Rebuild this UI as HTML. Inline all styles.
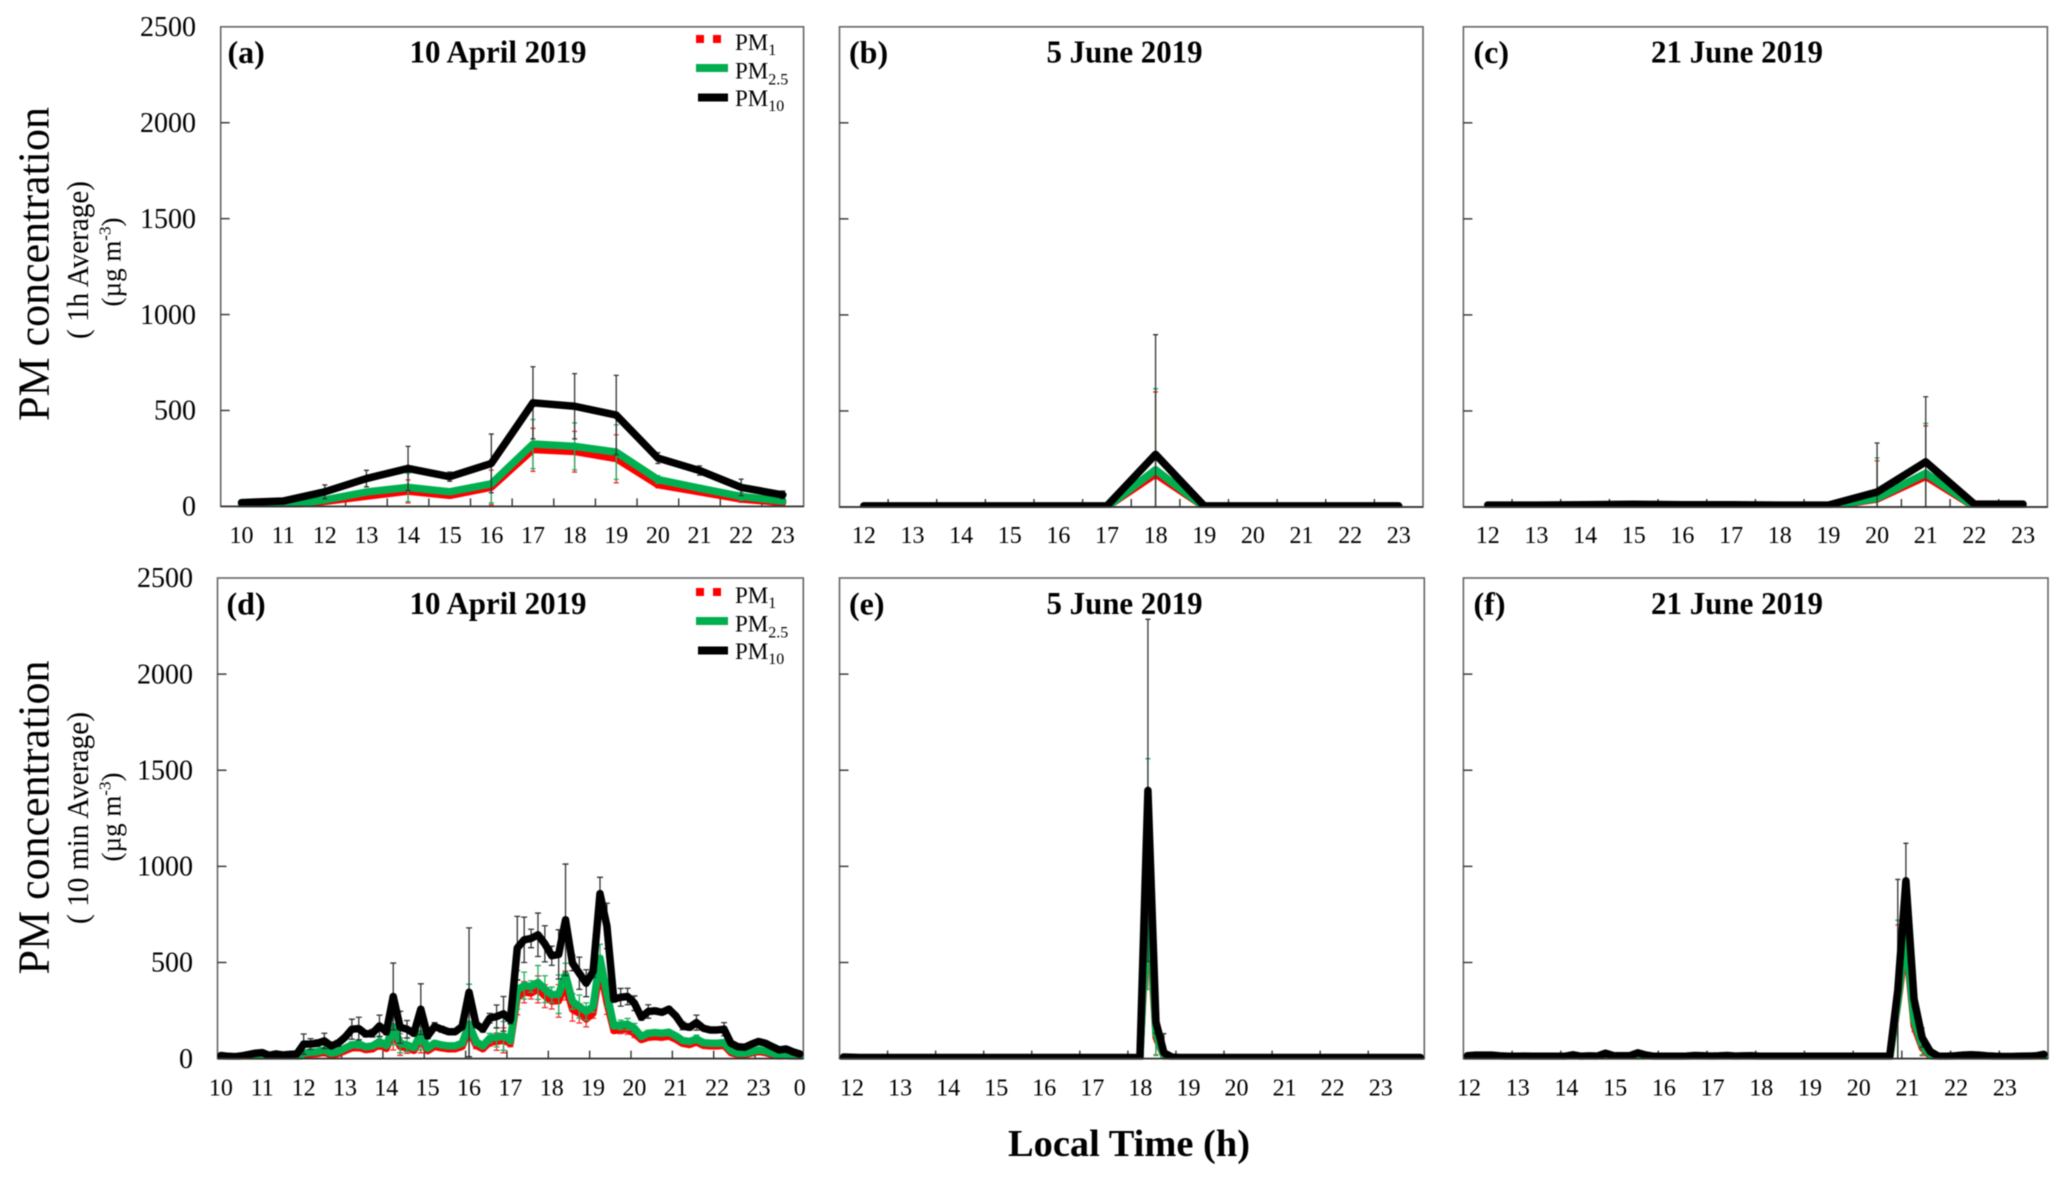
<!DOCTYPE html>
<html lang="en">
<head>
<meta charset="utf-8">
<title>PM concentration</title>
<style>
html,body{margin:0;padding:0;background:#fff;width:2067px;height:1181px;overflow:hidden}
svg{display:block;filter:blur(0.45px)}
text{font-family:"Liberation Serif","Noto Serif CJK SC",serif;fill:#000}
.ttl{font-weight:bold;font-size:32px;text-anchor:middle}
.lab{font-weight:bold;font-size:32px}
.leg{font-size:23px}
.sub{font-size:16px}
.big{font-size:44px;text-anchor:middle}
.mid{font-size:31px;text-anchor:middle}
.unit{font-size:27px;text-anchor:middle}
</style>
</head>
<body>
<svg id="figure" xmlns="http://www.w3.org/2000/svg" width="2067" height="1181" viewBox="0 0 2067 1181">
  <rect width="2067" height="1181" fill="#fff"/>

  <g>
    <text class="big" transform="translate(48.5 264) rotate(-90)" textLength="314" lengthAdjust="spacingAndGlyphs">PM concentration</text>
    <text class="mid" transform="translate(88 260) rotate(-90)" textLength="158" lengthAdjust="spacingAndGlyphs">( 1h Average)</text>
    <text class="unit" transform="translate(120.5 262) rotate(-90)">(µg m<tspan font-size="17" dy="-10">-3</tspan><tspan dy="10">)</tspan></text>
  </g>
  <g>
    <text class="big" transform="translate(48.5 817.5) rotate(-90)" textLength="314" lengthAdjust="spacingAndGlyphs">PM concentration</text>
    <text class="mid" transform="translate(88 818) rotate(-90)" textLength="212" lengthAdjust="spacingAndGlyphs">( 10 min Average)</text>
    <text class="unit" transform="translate(120.5 817) rotate(-90)">(µg m<tspan font-size="17" dy="-10">-3</tspan><tspan dy="10">)</tspan></text>
  </g>

  <g id="panel-a"></g>
  <g id="panel-b"></g>
  <g id="panel-c"></g>
  <g id="panel-d"></g>
  <g id="panel-e"></g>
  <g id="panel-f"></g>

  <g>
    <text class="lab" x="227.5" y="63">(a)</text>
    <text class="ttl" x="498" y="62.5" textLength="177" lengthAdjust="spacingAndGlyphs">10 April 2019</text>
    <text class="lab" x="849" y="63">(b)</text>
    <text class="ttl" x="1124.5" y="62.5" textLength="156" lengthAdjust="spacingAndGlyphs">5 June 2019</text>
    <text class="lab" x="1473.5" y="63">(c)</text>
    <text class="ttl" x="1737" y="62.5" textLength="172" lengthAdjust="spacingAndGlyphs">21 June 2019</text>
    <text class="lab" x="226.5" y="614.5">(d)</text>
    <text class="ttl" x="498" y="614" textLength="177" lengthAdjust="spacingAndGlyphs">10 April 2019</text>
    <text class="lab" x="849" y="614.5">(e)</text>
    <text class="ttl" x="1124.5" y="614" textLength="156" lengthAdjust="spacingAndGlyphs">5 June 2019</text>
    <text class="lab" x="1473.5" y="614.5">(f)</text>
    <text class="ttl" x="1737" y="614" textLength="172" lengthAdjust="spacingAndGlyphs">21 June 2019</text>
  </g>

  <g>
    <line x1="696" y1="39" x2="722" y2="39" stroke="#f00" stroke-width="8" stroke-dasharray="8 9"/>
    <text class="leg" x="735" y="50">PM<tspan class="sub" dy="5">1</tspan></text>
    <line x1="696" y1="68" x2="728" y2="68" stroke="#00b050" stroke-width="8"/>
    <text class="leg" x="735" y="78.5">PM<tspan class="sub" dy="6">2.5</tspan></text>
    <line x1="698" y1="97.5" x2="728" y2="97.5" stroke="#000" stroke-width="8"/>
    <text class="leg" x="735" y="106">PM<tspan class="sub" dy="5">10</tspan></text>
  </g>
  <g transform="translate(0 553)">
    <line x1="696" y1="39" x2="722" y2="39" stroke="#f00" stroke-width="8" stroke-dasharray="8 9"/>
    <text class="leg" x="735" y="50">PM<tspan class="sub" dy="5">1</tspan></text>
    <line x1="696" y1="68" x2="728" y2="68" stroke="#00b050" stroke-width="8"/>
    <text class="leg" x="735" y="78.5">PM<tspan class="sub" dy="6">2.5</tspan></text>
    <line x1="698" y1="97.5" x2="728" y2="97.5" stroke="#000" stroke-width="8"/>
    <text class="leg" x="735" y="106">PM<tspan class="sub" dy="5">10</tspan></text>
  </g>

  <text x="1129" y="1156" font-size="38" font-weight="bold" text-anchor="middle" textLength="242" lengthAdjust="spacingAndGlyphs">Local Time (h)</text>
</svg>

<script>
/* ---------- shared axis values ---------- */
const yTickValues = [0, 500, 1000, 1500, 2000, 2500];
const hourLabelsLong = ["10","11","12","13","14","15","16","17","18","19","20","21","22","23"];
const hourLabelsLongMidnight = ["10","11","12","13","14","15","16","17","18","19","20","21","22","23","0"];
const hourLabelsShort = ["12","13","14","15","16","17","18","19","20","21","22","23"];

/* ---------- panel (a) 10 April 2019, 1 h average ---------- */
const aPm1   = [3,4,25,52,78,56,99,295,285,248,112,75,37,19];
const aPm25  = [5,5,34,75,99,76,118,325,313,283,140,95,52,28];
const aPm10  = [20,28,76,145,198,155,224,540,522,476,252,187,99,60];
const aSdPm1  = [0,0,8,12,60,8,90,112,106,125,15,12,15,8];
const aSdPm25 = [0,0,10,15,74,10,100,128,122,142,20,15,20,10];
const aSdPm10 = [8,8,36,43,115,24,153,188,170,207,28,24,43,20];

/* ---------- panel (b) 5 June 2019, 1 h average ---------- */
const bPm1   = [0,0,0,0,0,0,170,0,0,0,0,0];
const bPm25  = [0,0,0,0,0,0,194,0,0,0,0,0];
const bPm10  = [6,6,6,6,6,6,274,6,6,6,6,6];
const bSdPm1  = [0,0,0,0,0,0,429,0,0,0,0,0];
const bSdPm25 = [0,0,0,0,0,0,422,0,0,0,0,0];
const bSdPm10 = [0,0,0,0,0,0,623,0,0,0,0,0];

/* ---------- panel (c) 21 June 2019, 1 h average ---------- */
const cPm1   = [0,0,0,0,0,0,0,1,40,158,0,0];
const cPm25  = [1,1,1,2,1,1,1,3,46,176,2,2];
const cPm10  = [10,10,12,14,12,12,10,10,78,235,15,15];
const cSdPm1  = [0,0,0,0,0,0,0,0,200,264,0,0];
const cSdPm25 = [0,0,0,0,0,0,0,0,209,259,0,0];
const cSdPm10 = [0,0,0,0,0,0,0,0,255,339,0,0];

/* ---------- panel (d) 10 April 2019, 10 min average ---------- */
const dPm1 = [0,0,0,0,1,2, 3,1,1,1,1,1,
  18,22,25,32,18,25, 40,55,58,46,50,72, 52,130,62,55,42,105, 40,62,55,50,50,62,
  150,68,50,85,88,95, 78,318,345,340,360,325, 298,300,380,255,235,205, 235,465,290,145,150,152,
  130,98,110,113,110,116, 100,78,72,85,68,65, 65,68,30,20,20,28, 36,30,20,10,14,8, 4];
const dPm25 = [2,2,2,2,3,4, 5,2,2,2,2,2,
  28,33,36,45,28,36, 54,71,76,61,66,89, 68,167,80,71,57,132, 54,80,71,66,66,80,
  180,89,66,106,111,118, 97,358,380,375,396,361, 332,335,436,297,271,245, 271,522,340,170,175,179,
  158,115,132,135,132,137, 118,94,89,102,83,80, 80,83,42,28,28,36, 45,40,28,16,19,14, 10];
const dPm10 = [16,12,10,14,21,28, 31,17,24,19,22,24,
  75,76,80,92,66,80, 111,153,156,128,132,170, 139,323,163,153,132,257, 118,167,153,140,140,167,
  345,180,153,210,219,233, 201,575,618,625,644,597, 535,542,722,497,444,392, 453,858,690,309,319,323,
  288,215,245,248,241,257, 222,170,163,187,158,149, 149,153,80,62,59,75, 89,80,62,45,50,35, 24];
const dSdPm1 = [0,0,0,0,0,1, 1,0,0,0,0,0,
  8,6,6,8,5,6, 8,14,18,8,10,24, 10,85,45,28,10,75, 8,10,8,6,6,8,
  200,16,10,20,45,65, 16,90,55,30,70,60, 40,85,75,60,50,40, 25,65,60,10,20,25,
  20,10,12,8,8,8, 6,10,8,15,5,5, 5,12,5,4,4,4, 5,4,4,3,3,2, 2];
const dSdPm25 = [1,1,1,1,1,1, 2,1,1,1,1,1,
  10,8,8,10,6,8, 10,16,22,10,12,28, 12,95,50,35,12,87, 10,12,10,8,8,10,
  207,20,12,25,50,75, 20,100,70,30,88,70, 40,100,60,40,60,45, 30,73,70,12,25,30,
  25,12,15,10,10,10, 8,12,10,20,6,6, 6,15,6,5,5,5, 6,5,5,4,4,3, 3];
const dSdPm10 = [8,5,4,4,5,6, 6,5,5,5,5,5,
  53,28,17,40,10,15, 10,52,59,15,20,56, 15,174,83,45,15,132, 15,20,15,10,10,15,
  335,20,15,25,60,90, 20,165,118,48,113,94, 50,128,290,40,84,70, 30,85,118,15,46,43,
  38,15,35,15,10,12, 10,20,15,39,8,8, 8,34,10,8,8,8, 12,8,8,6,6,5, 5];

/* ---------- panel (e) 5 June 2019, 10 min average ---------- */
const ePm1 = [0,0,0,0,0,0, 0,0,0,0,0,0, 0,0,0,0,0,0, 0,0,0,0,0,0, 0,0,0,0,0,0, 0,0,0,0,0,0,
  0,0,800,110,10,1, 0,0,0,0,0,0, 0,0,0,0,0,0, 0,0,0,0,0,0, 0,0,0,0,0,0, 0,0,0,0,0,0, 0];
const ePm25 = [0,0,0,0,0,0, 0,0,0,0,0,0, 0,0,0,0,0,0, 0,0,0,0,0,0, 0,0,0,0,0,0, 0,0,0,0,0,0,
  0,0,960,131,14,2, 0,0,0,0,0,0, 0,0,0,0,0,0, 0,0,0,0,0,0, 0,0,0,0,0,0, 0,0,0,0,0,0, 0];
const ePm10 = [8,7,6,6,6,6, 6,6,6,6,6,6, 6,6,6,6,6,6, 6,6,6,6,6,6, 6,6,6,6,6,6, 6,6,6,6,6,6,
  6,5,1395,191,30,8, 6,6,6,6,6,6, 6,6,6,6,6,6, 6,6,6,6,6,6, 6,6,6,6,6,6, 6,6,6,6,6,6, 6];
const eSdPm1 = [0,0,0,0,0,0, 0,0,0,0,0,0, 0,0,0,0,0,0, 0,0,0,0,0,0, 0,0,0,0,0,0, 0,0,0,0,0,0,
  0,0,300,90,12,0, 0,0,0,0,0,0, 0,0,0,0,0,0, 0,0,0,0,0,0, 0,0,0,0,0,0, 0,0,0,0,0,0, 0];
const eSdPm25 = [0,0,0,0,0,0, 0,0,0,0,0,0, 0,0,0,0,0,0, 0,0,0,0,0,0, 0,0,0,0,0,0, 0,0,0,0,0,0,
  0,0,600,115,15,0, 0,0,0,0,0,0, 0,0,0,0,0,0, 0,0,0,0,0,0, 0,0,0,0,0,0, 0,0,0,0,0,0, 0];
const eSdPm10 = [0,0,0,0,0,0, 0,0,0,0,0,0, 0,0,0,0,0,0, 0,0,0,0,0,0, 0,0,0,0,0,0, 0,0,0,0,0,0,
  0,0,890,60,100,0, 0,0,0,0,0,0, 0,0,0,0,0,0, 0,0,0,0,0,0, 0,0,0,0,0,0, 0,0,0,0,0,0, 0];

/* ---------- panel (f) 21 June 2019, 10 min average ---------- */
const fPm1 = [0,0,0,0,0,0, 0,0,0,0,0,0, 0,1,0,0,0,2, 0,0,0,3,1,0, 0,0,0,0,0,0, 0,0,0,0,0,0,
  0,0,0,0,0,0, 0,0,0,0,0,0, 0,0,0,0,0,280, 600,170,55,12,0,0, 0,0,0,0,0,0, 0,0,0,0,0,1];
const fPm25 = [1,1,2,2,1,1, 1,1,1,1,1,1, 1,3,1,1,1,5, 1,1,1,6,2,1, 1,1,1,1,2,1, 1,1,2,1,1,1,
  1,1,1,1,1,1, 1,1,1,1,1,1, 1,1,1,1,1,300, 650,200,70,20,1,1, 2,3,3,2,1,1, 1,1,1,1,2,4];
const fPm10 = [15,18,18,18,14,12, 12,13,12,12,12,12, 12,20,12,14,13,28, 15,15,15,30,18,12, 12,12,12,13,16,15, 13,14,16,13,14,15,
  12,12,12,12,12,12, 12,12,12,12,12,12, 12,12,12,12,12,356, 925,310,109,37,12,12, 14,18,20,18,14,12, 11,11,12,13,14,22];
const fSdPm1 = [0,0,0,0,0,0, 0,0,0,0,0,0, 0,0,0,0,0,0, 0,0,0,0,0,0, 0,0,0,0,0,0, 0,0,0,0,0,0,
  0,0,0,0,0,0, 0,0,0,0,0,0, 0,0,0,0,0,415, 100,30,40,15,0,0, 0,0,0,0,0,0, 0,0,0,0,0,0];
const fSdPm25 = [0,0,0,0,0,0, 0,0,0,0,0,0, 0,0,0,0,0,0, 0,0,0,0,0,0, 0,0,0,0,0,0, 0,0,0,0,0,0,
  0,0,0,0,0,0, 0,0,0,0,0,0, 0,0,0,0,0,420, 120,40,50,20,0,0, 0,0,0,0,0,0, 0,0,0,0,0,0];
const fSdPm10 = [0,0,0,0,0,0, 0,0,0,0,0,0, 0,0,0,0,0,0, 0,0,0,0,0,0, 0,0,0,0,0,0, 0,0,0,0,0,0,
  0,0,0,0,0,0, 0,0,0,0,0,0, 0,0,0,0,0,576, 195,40,50,15,0,0, 0,0,0,0,0,0, 0,0,0,0,0,0];

/* ---------- panel definitions: frame geometry kept apart from the data ---------- */
const yMax = 2500;
const panels = [
  {id:"a", left:220.7, right:803.6, top:26.8, bottom:506.4, labels:hourLabelsLong, perLabel:1, showY:true, yRight:196, labelBase:543, labelShift:0, capW:2.5,
   pm1:aPm1, pm25:aPm25, pm10:aPm10, sd1:aSdPm1, sd25:aSdPm25, sd10:aSdPm10},
  {id:"b", left:839.5, right:1423, top:26.8, bottom:507, labels:hourLabelsShort, perLabel:1, showY:false, yRight:0, labelBase:543, labelShift:0, capW:2.5,
   pm1:bPm1, pm25:bPm25, pm10:bPm10, sd1:bSdPm1, sd25:bSdPm25, sd10:bSdPm10},
  {id:"c", left:1463.4, right:2047.4, top:26.8, bottom:507, labels:hourLabelsShort, perLabel:1, showY:false, yRight:0, labelBase:543, labelShift:0, capW:2.5,
   pm1:cPm1, pm25:cPm25, pm10:cPm10, sd1:cSdPm1, sd25:cSdPm25, sd10:cSdPm10},
  {id:"d", left:217.5, right:803.3, top:578, bottom:1058.6, labels:hourLabelsLongMidnight, perLabel:6, showY:true, yRight:193, labelBase:1095.5, labelShift:3.4, capW:3,
   pm1:dPm1, pm25:dPm25, pm10:dPm10, sd1:dSdPm1, sd25:dSdPm25, sd10:dSdPm10},
  {id:"e", left:839.5, right:1424.3, top:578, bottom:1058.6, labels:hourLabelsShort, perLabel:6, showY:false, yRight:0, labelBase:1095.5, labelShift:12.5, capW:2.5,
   pm1:ePm1, pm25:ePm25, pm10:ePm10, sd1:eSdPm1, sd25:eSdPm25, sd10:eSdPm10},
  {id:"f", left:1463.4, right:2048, top:578, bottom:1058.6, labels:hourLabelsShort, perLabel:6, showY:false, yRight:0, labelBase:1095.5, labelShift:5.6, capW:2.5,
   pm1:fPm1, pm25:fPm25, pm10:fPm10, sd1:fSdPm1, sd25:fSdPm25, sd10:fSdPm10}
];

const NS = "http://www.w3.org/2000/svg";
function mk(tag, attrs, parent) {
  const el = document.createElementNS(NS, tag);
  for (const k in attrs) el.setAttribute(k, attrs[k]);
  parent.appendChild(el);
  return el;
}

function drawSeries(p, g, xOf, yOf, values, sds, key, color, errColor, width) {
  const errGroup = mk("g", {stroke: errColor, "stroke-width": 1.3, fill: "none"}, g);
  
  
  values.forEach(function (v, i) {
    const sd = sds[i];
    if (!sd) return;
    const x = xOf(i);
    const hi = yOf(v + sd);
    const lo = yOf(Math.max(0, v - sd));
    const bar = mk("path", {d: "M" + x + " " + lo + "V" + hi + "M" + (x - p.capW) + " " + hi + "H" + (x + p.capW) + "M" + (x - p.capW) + " " + lo + "H" + (x + p.capW)}, errGroup);
    
    
  });
  const pts = values.map(function (v, i) { return xOf(i).toFixed(2) + "," + yOf(v).toFixed(2); }).join(" ");
  const line = mk("polyline", {points: pts, fill: "none", stroke: color, "stroke-width": width, "stroke-linejoin": "round", "stroke-linecap": "round"}, g);
  
  
}

panels.forEach(function (p) {
  const g = document.getElementById("panel-" + p.id);
  const n = p.pm10.length;
  const w = (p.right - p.left) / n;
  const xOf = function (i) { return p.left + (i + 0.5) * w; };
  const yOf = function (v) { return p.bottom - v / yMax * (p.bottom - p.top); };

  const clip = mk("clipPath", {id: "clip-" + p.id}, g);
  
  
  const clipRect = mk("rect", {x: p.left, y: p.top, width: p.right - p.left, height: p.bottom - p.top + 1}, clip);
  
  

  const frame = mk("rect", {x: p.left, y: p.top, width: p.right - p.left, height: p.bottom - p.top, fill: "#fff", stroke: "#666", "stroke-width": 1.6}, g);
  
  

  /* y ticks */
  yTickValues.forEach(function (t) {
    const y = yOf(t);
    if (t > 0 && t < yMax) {
      const tick = mk("line", {x1: p.left, x2: p.left + 9, y1: y, y2: y, stroke: "#333", "stroke-width": 1.4}, g);
      
      
    }
    if (p.showY) {
      const lab = mk("text", {x: p.yRight, y: y + 9.2, "text-anchor": "end", "font-size": 28}, g);
      
      
      lab.textContent = String(t);
    }
  });

  /* x ticks and labels */
  p.labels.forEach(function (label, k) {
    const tx = p.left + k * p.perLabel * w;
    if (k > 0 && tx < p.right - 1) {
      const tick = mk("line", {x1: tx, x2: tx, y1: p.bottom, y2: p.bottom - 8, stroke: "#333", "stroke-width": 1.4}, g);
      
      
    }
    const cx = p.perLabel === 1 ? xOf(k) : tx + p.labelShift;
    const lab = mk("text", {x: cx, y: p.labelBase, "text-anchor": "middle", "font-size": 24}, g);
    
    
    lab.textContent = label;
  });

  /* series, drawn PM1 then PM2.5 then PM10 */
  const marks = mk("g", {"clip-path": "url(#clip-" + p.id + ")"}, g);
  
  
  drawSeries(p, marks, xOf, yOf, p.pm1, p.sd1, "pm1", "#ff0000", "#f03030", 7);
  drawSeries(p, marks, xOf, yOf, p.pm25, p.sd25, "pm25", "#00b050", "#1fae62", 7.5);
  drawSeries(p, marks, xOf, yOf, p.pm10, p.sd10, "pm10", "#000000", "#333333", 7.5);

  /* dark bottom axis line */
  const xAxis = mk("line", {x1: p.left, x2: p.right, y1: p.bottom, y2: p.bottom, stroke: "#333", "stroke-width": 1.7}, g);
  
  
});
</script>
</body>
</html>
